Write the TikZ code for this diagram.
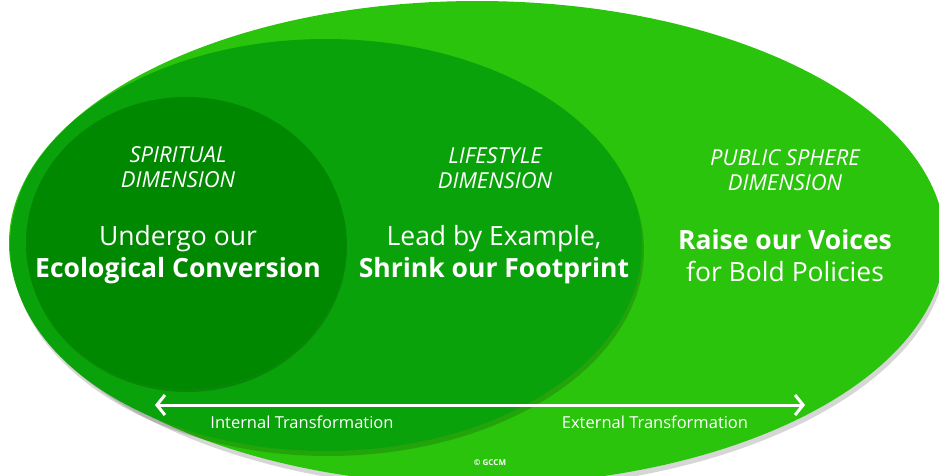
\documentclass[tikz,border=0pt]{standalone}
\usepackage{fontspec}
\setmainfont{Open Sans}
\usetikzlibrary{arrows.meta}

\definecolor{publicgreen}{RGB}{42,196,12}
\definecolor{lifegreen}{RGB}{10,162,10}
\definecolor{spiritgreen}{RGB}{0,136,0}

\begin{document}
\begin{tikzpicture}[x=1pt,y=-1pt,
    heading/.style={text=white, align=center,
        font=\fontsize{22}{25}\selectfont\itshape},
    slogan/.style={text=white, align=center,
        font=\fontsize{26.5}{32}\selectfont},
    caption/.style={text=white, font=\fontsize{16.5}{18}\selectfont},
    shade/.style={fill=black, opacity=0.16}]

        \useasboundingbox (0,0) rectangle (939,475);
        \fill[white] (0,0) rectangle (939,475);

        % Centres of the three dimensions.
        \coordinate (public) at (477,243);
        \coordinate (lifestyle) at (326,245);
        \coordinate (spiritual) at (186,243);

        % Ends of the transformation arrow.
        \coordinate (inner) at (155,405);
        \coordinate (outer) at (805,405);

        % The nested dimensions, largest first.
        \fill[shade] (public) ++(2,5) ellipse [x radius=468pt, y radius=242pt];
        \fill[publicgreen] (public) ellipse [x radius=468pt, y radius=242pt];
        \fill[shade] (lifestyle) ++(2,5) ellipse [x radius=316pt, y radius=206pt];
        \fill[lifegreen] (lifestyle) ellipse [x radius=316pt, y radius=206pt];
        \fill[shade] (spiritual) ++(1,3) ellipse [x radius=160pt, y radius=146pt];
        \fill[spiritgreen] (spiritual) ellipse [x radius=160pt, y radius=146pt];

        % Headings and slogans.
        \node[heading] (spirithead) at (178,167) {SPIRITUAL\\DIMENSION};
        \node[slogan] (spiritslogan) at (178,255)
            {Undergo our\\\textbf{Ecological Conversion}};
        \node[heading] (lifehead) at (495,168) {LIFESTYLE\\DIMENSION};
        \node[slogan] (lifeslogan) at (494,255)
            {Lead by Example,\\\textbf{Shrink our Footprint}};
        \node[heading] (publichead) at (785,170) {PUBLIC SPHERE\\DIMENSION};
        \node[slogan] (publicslogan) at (785,256)
            {\textbf{Raise our Voices}\\for Bold Policies};

        % Internal to external transformation.
        \draw[white, line width=3pt,
            {Straight Barb[length=8pt,width=20pt]}-{Straight Barb[length=8pt,width=20pt]}]
            (inner) -- (outer);
        \node[caption] (internal) at (302,422) {Internal Transformation};
        \node[caption] (external) at (655,422) {External Transformation};

        \node[text=white, font=\fontsize{8}{10}\selectfont\bfseries]
            (credit) at (490,463) {© GCCM};
    \end{tikzpicture}
\end{document}
